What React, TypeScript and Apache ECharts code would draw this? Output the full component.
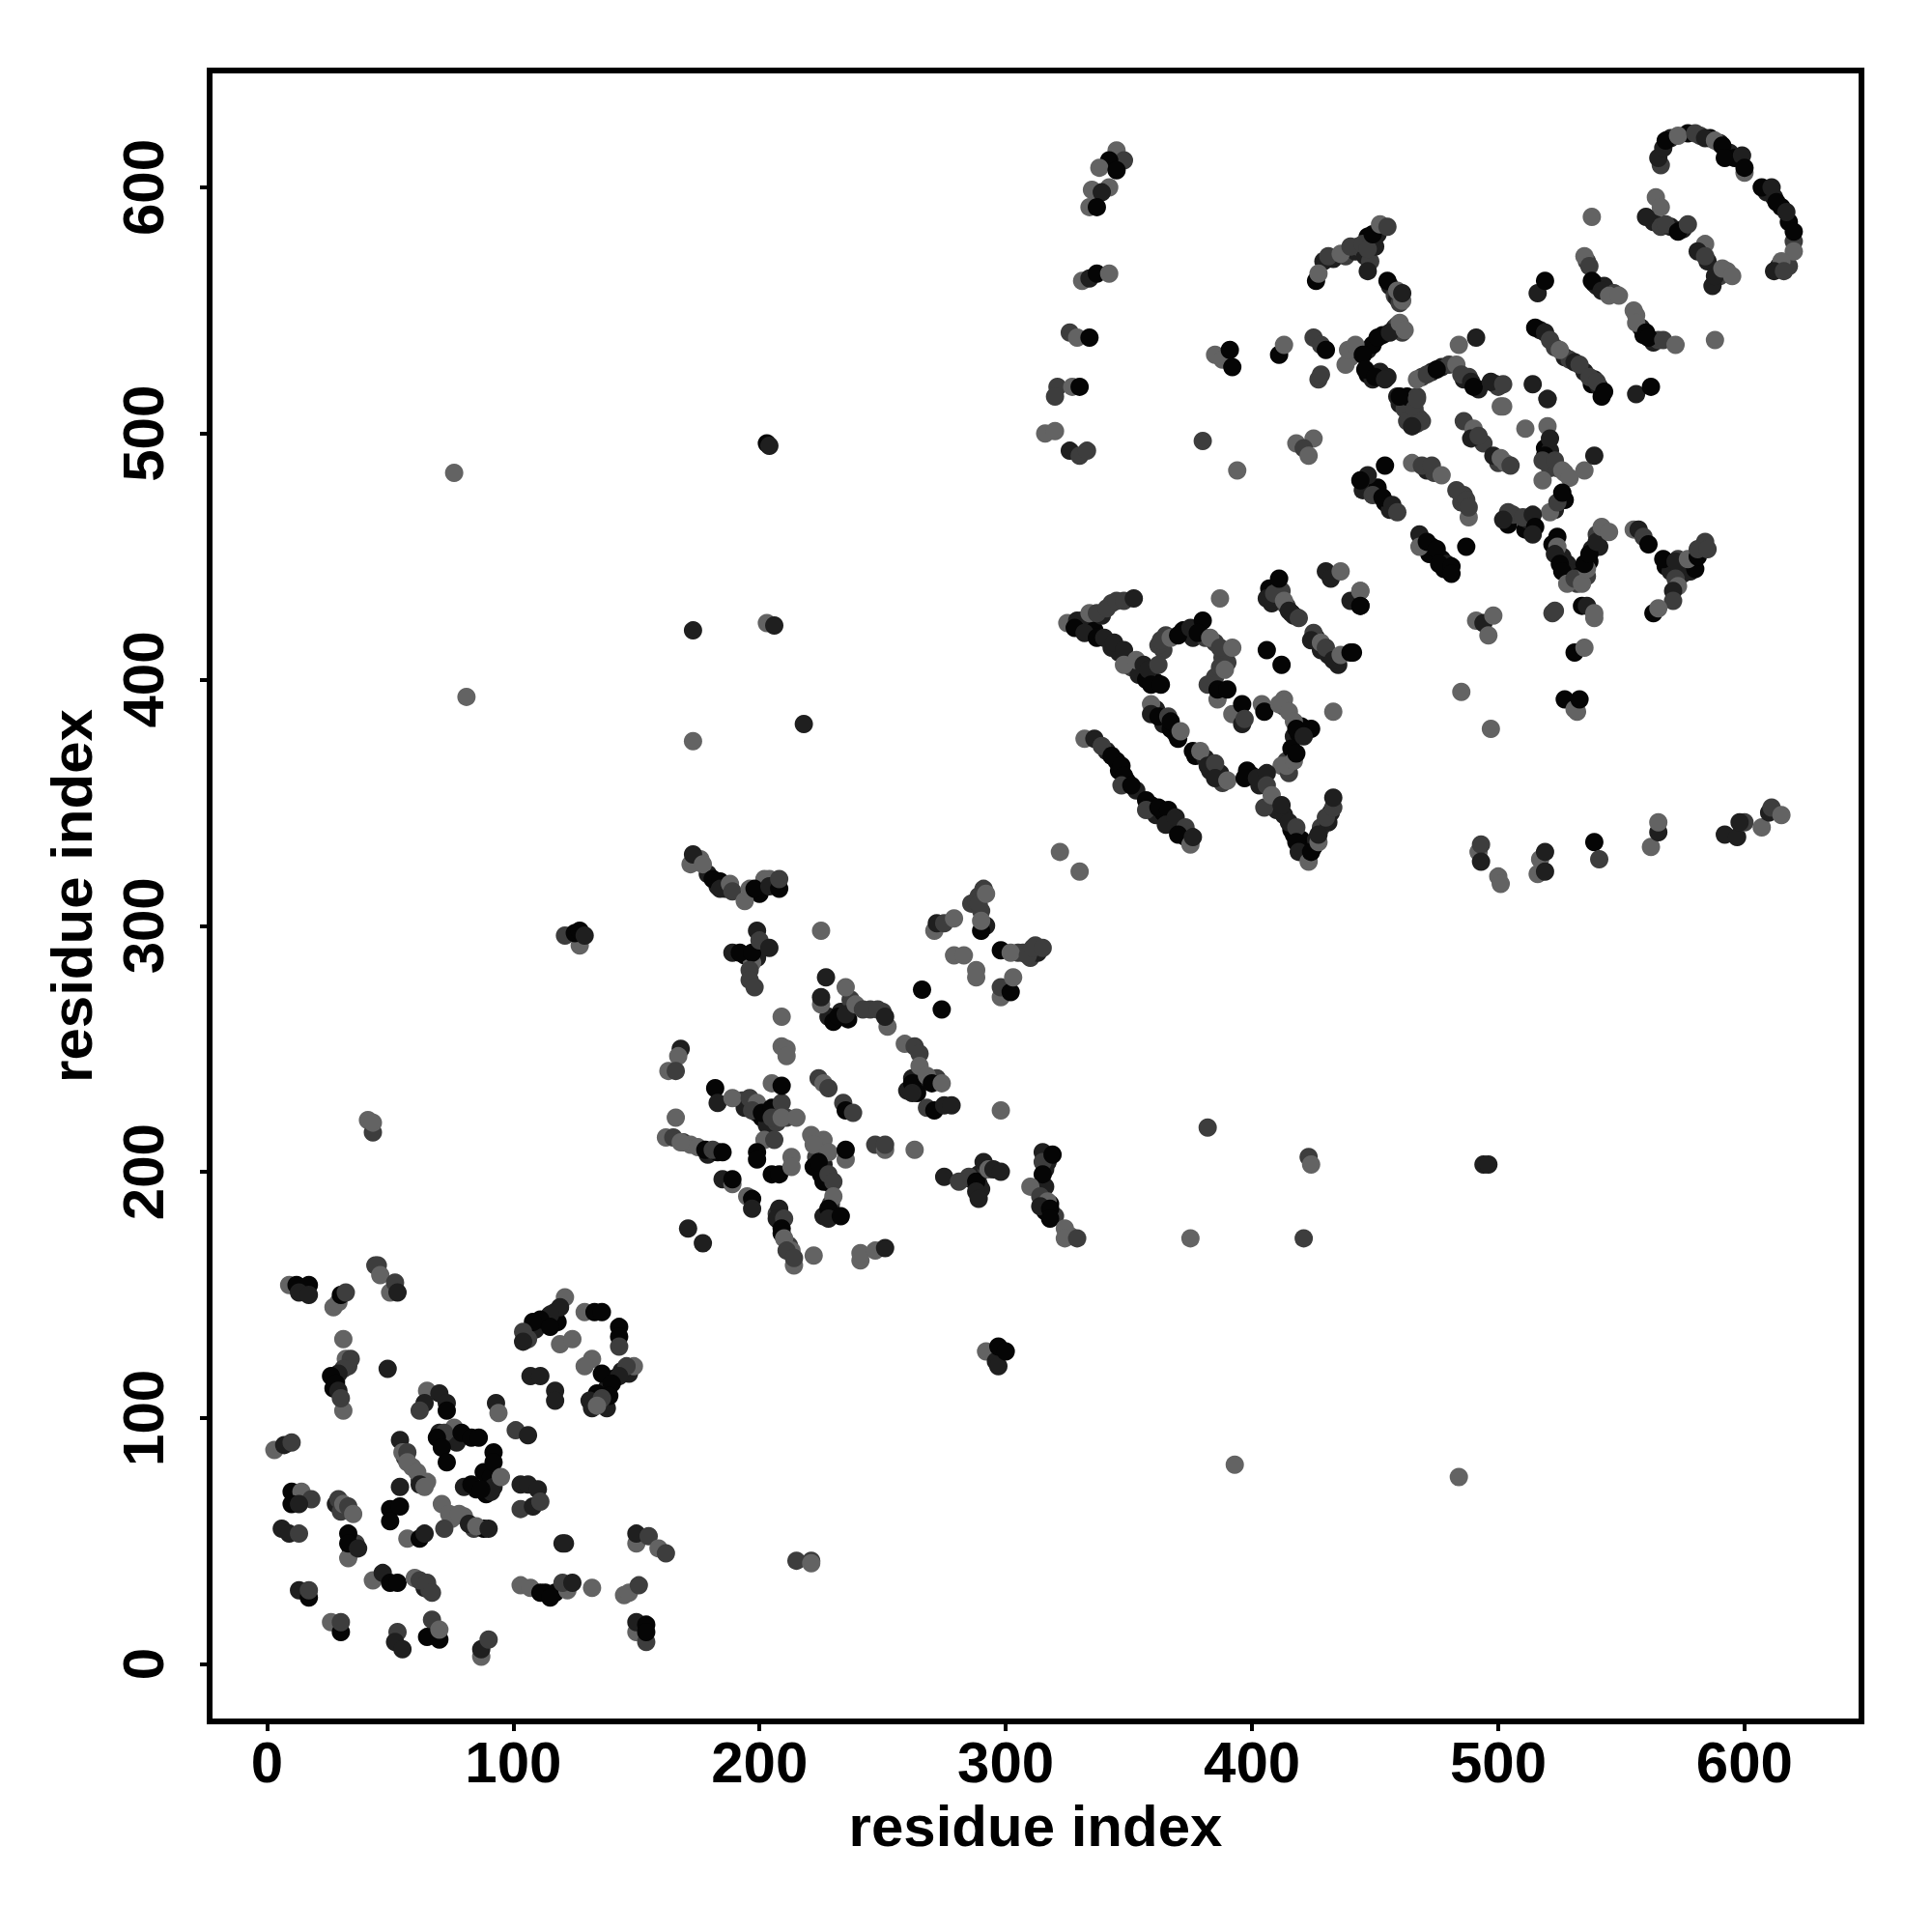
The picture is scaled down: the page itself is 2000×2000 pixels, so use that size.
import React, { useEffect, useRef } from "react";
import * as echarts from "echarts";

const tickValues = [0, 100, 200, 300, 400, 500, 600];
const axisTitle = "residue index";
const greys = ["#050505", "#1f1f1f", "#3d3d3d", "#636363"];

// [residue i, residue j, grey level]
const strandsUpper = [
[566,609,2],[570,620,1],[577,622,0],[582,621,2],[586,620,0],[590,618,1],[594,614,1],[596,612,0],[609,598,1],[612,596,1],[615,592,0],[618,586,0],[620,578,2],[618,568,2],[614,568,1],
[563,586,1],[566,584,2],[570,584,1],[575,583,1],[583,575,1],[585,570,1],[590,564,2],[593,566,3],
[536,570,2],[539,561,0],[540,560,1],[543,560,1],[547,557,2],[556,548,3],[558,543,1],[559,540,0],[563,537,1],[565,538,2],
[429,570,1],[433,571,1],[438,572,2],[442,574,1],[443,576,2],[446,572,1],[448,570,2],[449,578,1],[450,576,1],[451,581,1],[447,580,0],
[456,560,1],[458,556,2],[459,555,1],[460,553,2],[440,531,3],[443,534,2],[447,534,1],[449,536,0],[453,540,0],[458,543,1],[459,544,2],[461,541,2],
[447,524,0],[449,522,1],[452,525,1],[455,523,1],[462,513,1],[465,514,0],[466,508,2],[468,506,1],
[469,523,2],[473,525,1],[477,527,1],[480,528,2],[486,522,1],[488,523,2],[492,518,1],[499,520,1],[500,519,2],
[517,542,1],[523,535,2],[527,531,1],[529,530,2],[531,529,1],[535,525,1],[538,520,0],[539,522,1],[541,519,1],[542,515,0],
];

const strandsMiddle = [
[341,371,1],[345,367,0],[346,363,0],[349,359,0],[353,355,1],[359,349,0],[361,345,1],[364,346,0],[367,342,1],[371,339,1],[373,336,0],[374,337,1],
[361,388,1],[364,382,1],[369,378,1],[367,380,0],[377,369,0],[381,368,1],[383,363,1],[387,362,1],[388,358,2],
[330,422,0],[331,424,1],[333,422,1],[335,424,1],[336,420,0],[339,426,1],[343,431,2],[343,413,1],[346,411,1],[351,405,2],[354,402,1],[357,400,0],[361,399,0],[364,412,2],[365,418,2],[372,420,0],[376,417,1],[381,417,2],[385,415,2],[388,409,2],[390,407,2],[385,401,2],
[400,361,0],[403,357,1],[408,349,1],[410,347,1],[413,345,1],[416,339,0],[417,337,0],[420,335,0],[422,331,0],[425,332,0],[426,335,1],[428,340,2],[431,342,1],[432,346,1],
[417,377,1],[419,378,0],[420,381,0],[414,367,2],[416,372,0],[413,389,2],[412,365,3],
[407,437,0],[408,431,1],[410,433,1],[412,436,2],[414,430,2],[416,427,0],[417,426,1],[426,417,1],[428,412,1],[431,410,1],[434,409,2],[435,406,1],
[524,458,0],[526,450,1],[528,447,1],[530,443,1],[532,439,2],[533,442,0],[536,442,2],[537,448,0],[538,453,1],[540,459,2],[541,454,1],
[445,477,1],[447,479,1],[451,478,0],[454,472,0],[456,469,1],[469,456,1],[472,451,0],[473,454,0],[477,449,0],[479,447,1],[478,445,0],
[568,446,0],[570,444,1],[574,446,2],[575,443,1],[578,444,1],[580,445,0],[573,449,2],
[504,463,0],[506,467,2],[512,463,1],[511,461,0],[512,465,1],[519,494,0],[521,493,1],[521,486,2],[524,486,2],[527,484,3],[527,473,0],[523,469,1],[518,481,3],
[447,483,1],[471,485,1],[474,484,2],[485,472,2],[486,475,2],[460,512,1],[462,510,2],[463,505,2],[467,507,2],[490,500,2],[494,496,2],[500,488,2],[503,488,3],
];

const strandsLower = [
[286,309,2],[290,306,2],[289,312,2],[292,300,1],[305,289,2],[307,289,2],[310,287,2],[313,289,1],[312,292,2],
[176,327,3],[179,321,1],[183,316,1],[186,315,1],[200,313,0],[206,317,1],[202,319,3],[194,288,0],[199,287,1],[201,291,1],[197,285,3],
[228,263,1],[230,261,0],[233,265,1],[236,262,0],[237,270,2],[245,266,2],[250,265,2],[262,238,1],[264,234,0],[266,237,1],[264,232,0],[260,233,1],[272,238,2],
[193,229,2],[194,226,1],[199,224,1],[201,222,0],[203,219,1],[206,224,1],[207,220,2],[211,222,2],
[224,202,1],[223,206,2],[226,203,1],[228,198,2],[229,195,1],[225,199,0],[226,213,3],[229,187,2],[230,183,1],[226,182,1],[207,183,2],[208,180,1],[209,175,0],[212,170,2],[213,168,3],
[286,197,1],[289,195,1],[290,193,1],[289,199,1],[292,202,2],[285,198,2],[316,194,1],[316,201,1],[317,204,1],[320,182,2],[326,174,3],[316,184,0],[318,187,0],
[169,212,2],[172,211,3],[179,207,1],[183,208,0],
[113,140,1],[117,143,1],[118,139,0],[109,136,1],[106,132,2],[138,112,1],[141,116,0],[144,119,1],[147,118,1],[134,110,0],[131,107,1],[138,104,1],
[70,94,1],[71,91,0],[75,92,0],[77,90,1],[88,78,0],[91,76,0],[92,72,1],[89,69,0],[85,71,0],[80,72,1],
[56,84,2],[59,80,3],[62,75,2],[65,74,3],[75,59,3],[80,60,3],[84,55,2],[88,55,0],[120,31,1],[113,29,0],[117,29,0],[122,30,3],[64,31,1],[66,30,2],
[28,115,1],[27,112,0],[33,121,2],[28,65,1],[30,62,2],[36,49,2],[34,47,0],
];

const domainOne = [
[9,154,3],[12,154,0],[17,154,0],[13,151,1],[17,150,1],[27,145,3],[29,147,3],[30,150,0],[32,151,2],[31,132,3],
[31,103,3],[32,124,3],[34,124,2],[31,120,2],[29,118,1],[26,117,0],[28,114,0],[29,111,1],[30,108,2],
[44,162,2],[45,162,2],[46,158,3],[50,151,3],[52,155,2],[53,151,1],[49,120,1],
[121,149,3],[119,145,1],[115,142,1],[111,140,0],[108,139,0],[104,135,2],[104,131,1],[115,137,0],[119,130,3],[124,132,3],
[129,143,3],[133,143,0],[136,143,0],[143,137,0],[143,133,0],[143,129,2],[132,124,3],[129,121,3],[136,118,0],[149,121,3],[146,121,2],[143,117,1],[140,114,0],[139,109,0],[136,108,2],[132,104,1],[134,105,3],
[107,117,1],[111,117,1],[117,111,1],[117,107,1],
[65,111,3],[64,106,1],[62,103,2],[70,110,1],[73,106,1],[73,103,0],[76,96,3],[72,94,2],[69,92,0],[71,88,0],[73,82,0],[79,94,0],[83,92,0],[86,92,0],
[93,106,1],[94,102,3],[101,95,2],[106,93,1],[92,86,0],[92,82,0],[91,70,1],[83,73,0],[87,71,0],[95,76,3],[103,73,1],[106,73,1],[110,71,1],[103,63,2],[108,64,1],[111,66,2],
[54,91,1],[55,86,3],[57,86,2],[57,82,3],[61,78,3],[62,73,1],[64,72,3],[54,72,1],[50,63,0],[54,64,0],[50,58,0],
[71,65,3],[74,61,3],[78,61,3],[82,57,1],[85,56,3],[90,55,1],[72,55,2],[57,51,3],[62,51,0],[64,53,1],
[3,87,3],[7,89,1],[10,90,2],[10,70,0],[14,70,3],[18,67,2],[10,65,0],[13,65,1],[6,55,1],[9,53,1],[13,53,2],
[29,67,2],[31,65,3],[33,64,2],[35,61,3],[33,43,3],[33,53,0],[33,49,0],[37,47,1],
[43,34,3],[47,37,1],[50,33,0],[53,33,0],[60,35,3],[62,34,2],[65,33,2],[67,29,2],[13,30,1],[17,27,0],[17,30,2],
[26,17,3],[30,13,0],[30,17,2],[53,13,2],[52,9,1],[55,6,1],[67,18,2],[65,11,0],[70,10,0],[70,14,3],[87,3,3],[87,6,1],[90,10,2],
[120,49,1],[103,32,3],[107,31,3],[111,29,0],[115,27,0],[120,33,2],[124,33,1],[132,31,3],[145,28,3],[147,29,3],[151,32,2],
[150,49,3],[150,53,1],[155,52,2],[159,47,3],[162,45,2],[150,13,3],[154,9,2],[150,17,1],[154,16,0],[154,13,0],[121,49,1],
];

const domainTwo = [
[172,325,3],[173,329,1],[177,325,3],[181,319,0],[184,318,0],[184,315,1],[188,317,3],[189,314,2],[194,310,3],[196,315,3],[198,315,0],[204,319,3],[204,316,1],[208,315,0],[208,319,2],
[199,298,1],[189,289,1],[192,289,0],[197,289,0],[200,294,2],[204,291,1],[196,282,2],[196,278,2],[198,275,2],[225,298,3],[209,263,3],[209,251,3],[211,250,3],[211,247,3],
[168,250,1],[167,247,3],[163,241,3],[166,241,2],[322,330,3],[330,322,3],
[288,310,2],[289,309,2],[291,315,2],[292,313,3],[290,298,0],[290,302,3],[271,298,3],[272,301,1],[275,301,2],[279,303,3],[279,288,3],[283,288,3],[288,282,3],[288,279,3],
[298,290,0],[302,289,3],[309,288,2],[311,291,2],[315,291,2],[298,271,3],[298,275,2],[302,273,0],[303,279,3],[266,274,0],[274,266,0],
[227,279,1],[225,268,3],[225,271,1],[235,275,3],[232,263,0],[235,264,1],[239,268,3],[242,266,2],[248,266,2],[252,259,3],[251,263,1],
[259,252,3],[263,251,2],[265,248,2],[265,243,3],[262,236,0],[262,232,1],[268,239,3],[270,236,0],[274,236,3],[268,226,2],[271,225,0],[275,227,1],[278,227,1],[298,225,3],[166,222,3],
[162,214,3],[165,214,2],[168,212,3],[175,210,3],[178,209,0],[181,209,2],[185,208,0],[182,234,0],[183,228,1],[189,230,3],[196,230,2],[199,228,3],[197,225,2],[201,224,0],[205,226,0],[209,228,2],[205,222,2],[209,222,3],[215,222,3],[205,236,3],[209,235,0],
[224,238,2],[226,236,3],[228,234,2],[234,228,2],[235,225,0],[238,224,2],[202,213,3],[206,213,2],[199,208,0],[199,205,0],[205,199,0],[208,199,0],[213,206,3],[213,202,3],[221,215,3],[222,211,3],[228,208,3],[235,205,3],[235,209,0],[222,202,0],[224,204,0],[226,196,0],[228,199,2],[230,196,2],
[247,211,2],[251,209,3],[251,211,2],[263,209,3],[185,197,1],[189,195,3],[189,197,0],[195,190,3],[197,189,0],[197,185,1],
[208,185,1],[207,181,1],[210,181,2],[209,177,0],[210,173,3],[211,168,2],[214,162,3],[214,165,2],[222,166,3],[230,190,3],[228,185,0],[228,181,1],[233,182,0],[241,164,3],[241,167,3],[247,168,3],[251,169,1],[171,177,1],[177,171,1],
[275,198,1],[281,196,2],[291,204,1],[288,196,0],[288,192,1],[289,189,1],[293,201,3],[295,201,1],[298,200,1],
[315,208,1],[315,204,2],[319,207,0],[315,199,0],[310,194,3],[314,190,2],[317,188,3],[314,186,1],[318,185,0],[318,181,0],[324,177,3],[324,173,3],[329,173,2],
];

const domainThree = [
[325,423,3],[329,424,1],[328,421,0],[334,427,3],[332,419,1],[337,427,2],[337,417,0],[341,429,2],[340,417,1],[345,432,2],[344,415,1],[348,432,2],[352,433,1],[348,412,1],[348,406,3],[353,408,3],[356,406,1],[358,404,1],[362,406,2],[359,398,0],[363,398,0],
[362,414,2],[363,416,2],[367,417,3],[370,418,0],[375,421,1],[380,424,0],[378,419,0],[383,417,3],[387,413,2],[392,413,3],[387,405,2],[389,404,3],[387,433,3],
[382,398,2],[386,392,3],[386,396,0],[390,396,0],[359,390,3],[359,386,1],[362,385,0],[366,385,2],[367,383,0],[370,376,0],[371,379,3],[376,371,0],[379,371,3],[382,365,1],[385,366,2],[385,360,1],[390,359,3],
[332,376,3],[336,376,1],[339,373,2],[343,369,0],[347,365,0],[348,361,0],[347,357,2],[351,357,0],[357,351,0],[357,347,2],[362,348,0],[366,347,0],[365,341,1],[369,344,1],[373,340,2],[370,337,0],[375,333,3],[376,336,1],
[392,386,3],[396,390,0],[396,382,1],[397,384,2],[404,390,3],[405,387,0],[413,392,3],[411,390,3],[415,387,3],[417,383,3],[418,380,0],[424,380,0],[421,377,1],[415,362,2],[414,365,3],[417,367,3],[418,370,0],
[398,363,0],[397,360,0],[402,360,1],[406,362,1],[406,357,2],[405,348,2],[408,353,3],[412,349,1],[415,342,1],[418,340,2],[418,334,0],[419,330,1],[423,326,3],[424,330,0],[427,334,3],[427,337,1],[430,344,2],[433,348,2],[433,352,1],
[406,433,1],[409,435,2],[411,441,0],[413,432,3],[415,428,1],[419,425,2],[425,419,2],[424,416,1],[428,415,3],[430,413,2],[433,408,1],[436,410,3],[440,411,0],[406,412,0],[412,406,0],
[430,444,1],[432,441,1],[436,444,3],[440,432,1],[444,430,0],[444,436,3],[433,387,3],
];

const domainFour = [
[459,515,1],[463,515,0],[467,515,2],[466,510,2],[465,503,2],[469,505,2],[486,505,2],[490,502,3],[489,498,1],[492,499,2],[498,491,1],[501,490,3],[505,487,2],[502,511,3],[520,514,2],[511,502,3],[520,503,3],[521,498,1],
[519,491,0],[518,489,2],[523,489,2],[526,485,3],[529,482,3],[535,485,3],[539,491,1],[521,468,3],[524,472,2],[526,476,0],[454,487,0],[465,488,3],[469,487,2],[473,487,2],[477,483,3],
[444,481,0],[449,475,2],[453,474,0],[457,471,1],[459,468,2],[488,466,3],[483,477,2],[487,473,2],[488,470,2],[504,468,2],[502,465,1],[510,466,2],[514,467,1],[515,462,0],[514,459,1],
[468,459,1],[468,454,3],[471,456,0],[475,453,0],[476,447,0],[481,446,0],[481,443,0],[487,454,0],
[522,455,0],[524,454,3],[523,451,1],[525,447,0],[526,444,0],[528,439,3],[531,441,2],[534,439,3],[536,445,3],[535,447,0],[537,451,0],[540,456,1],[542,462,3],[545,460,3],
[555,461,3],[557,461,1],[559,458,2],[561,455,0],[567,449,0],[572,448,1],[577,449,3],[581,450,0],[584,456,2],[581,453,2],[585,453,2],[572,441,2],[573,438,3],[571,436,1],[571,432,2],[563,427,0],[565,429,3],
[522,427,2],[523,428,2],[534,430,0],[536,430,1],[539,425,3],[539,427,3],[491,424,3],[494,423,1],[496,418,3],[498,426,3],[531,411,0],[535,413,3],[444,436,3],[444,430,0],[441,411,0],[485,395,3],
[527,392,0],[531,388,3],[532,387,3],[533,392,0],[497,380,3],
[492,330,3],[493,333,2],[493,326,1],[500,320,3],[501,317,3],[516,321,3],[517,327,3],[519,330,1],[519,322,1],[539,334,0],[541,327,2],[562,332,3],[565,338,1],[565,342,3],[592,337,1],[597,336,1],[600,342,2],[598,342,1],[607,340,3],[610,346,1],[611,348,2],[615,345,3],
];

const domainFive = [
[345,615,3],[348,611,2],[342,611,0],[338,608,3],[345,607,0],[342,600,3],[335,599,3],[339,598,1],[334,592,3],[337,592,0],
[331,562,3],[334,563,1],[337,565,0],[342,565,3],[326,541,2],[329,539,3],[334,539,0],[321,519,2],[320,515,2],[327,519,3],[330,519,0],[316,500,3],[320,501,3],[326,493,1],[330,491,2],[333,493,2],
[380,497,2],[394,485,3],[385,532,3],[388,530,3],[391,534,0],[392,527,0],[411,532,0],[413,536,3],[425,539,2],[428,536,2],[430,534,0],[427,522,2],[428,524,2],[418,496,3],[425,498,3],[421,494,2],[423,491,3],
[426,562,0],[427,565,3],[431,572,2],[436,573,3],[440,576,2],[445,577,2],[447,575,2],[447,566,1],[449,581,0],[452,585,3],[455,584,2],[455,562,0],[459,558,3],[461,554,3],[461,557,1],
[438,528,3],[439,534,3],[442,536,3],[445,532,0],[451,539,0],[456,541,1],[460,545,3],[462,542,3],[446,526,0],[450,523,0],[454,522,1],[460,515,0],[467,514,2],[467,504,2],[465,503,1],
[467,522,3],[471,524,2],[475,526,0],[483,528,3],[485,524,2],[489,521,1],[490,519,0],[497,521,1],[502,520,2],[501,511,3],[491,539,1],[484,536,3],[514,520,1],[520,514,1],
[515,543,0],[519,541,1],[521,538,2],[525,534,3],[533,528,2],[537,523,2],[540,521,2],[543,517,0],[556,516,1],[562,519,0],[516,557,1],[519,562,0],
[535,572,3],[537,568,2],[538,562,0],[542,558,1],[545,556,3],[549,556,3],[555,550,3],[556,545,3],[560,541,0],[561,539,0],[567,538,2],[572,536,3],[588,538,3],[538,588,3],
[564,596,3],[566,592,3],[560,588,1],[568,585,2],[573,582,0],[577,585,2],[584,577,3],[581,574,1],[584,572,2],[587,560,1],[588,564,1],[591,567,3],[595,564,3],
[565,612,1],[567,616,1],[568,619,0],[573,621,3],[580,622,2],[584,620,1],[588,619,3],[591,617,0],[592,612,0],[599,613,1],[600,606,3],[600,608,0],[607,600,0],[611,600,1],[613,594,0],[617,590,1],[620,582,0],[620,574,3],[615,570,3],[612,566,1],[616,566,2],
];

const farContacts = [
[76,484,3],[81,393,3],[203,496,0],[204,495,1],[173,420,1],[203,423,3],[206,422,1],[218,382,1],[173,375,3],
[121,296,2],[127,292,3],[125,297,0],[127,298,0],[129,296,1],[41,221,3],[43,216,2],[43,220,3],
[292,127,3],[296,123,1],[297,121,1],[297,129,0],[300,127,0],[382,218,2],[423,206,2],[424,203,3],[494,203,1],[496,203,1],
[375,173,3],[421,173,2],[393,81,3],[484,76,3],[215,42,2],[221,42,2],[221,41,3],
];

const points = [...strandsUpper, ...strandsMiddle, ...strandsLower, ...domainOne, ...domainTwo, ...domainThree, ...domainFour, ...domainFive, ...farContacts];

const font = "'Liberation Sans', Arial, sans-serif";

export default function App() {
  const ref = useRef<HTMLDivElement>(null);
  useEffect(() => {
    const chart = echarts.init(ref.current!, undefined, { renderer: "svg" });
    const axisBase = {
      type: "value" as const,
      min: -23.3,
      max: 647.5,
      nameLocation: "middle" as const,
      name: axisTitle,
      nameTextStyle: { fontFamily: font, fontWeight: "bold" as const, fontSize: 60, color: "#000" },
      splitLine: { show: false },
      axisLine: { show: false, onZero: false },
    };
    chart.setOption({
      animation: false,
      backgroundColor: "#fff",
      grid: { left: 217, right: 73, top: 73, bottom: 218, show: true, borderColor: "#000", borderWidth: 6, backgroundColor: "#fff" },
      xAxis: {
        ...axisBase,
        nameGap: 78,
        axisTick: { show: true, length: 10, lineStyle: { width: 4, color: "#000" }, customValues: tickValues },
        axisLabel: { show: true, margin: 12, fontFamily: font, fontWeight: "bold", fontSize: 60, color: "#000", customValues: tickValues, formatter: (v: number) => String(v) },
      },
      yAxis: {
        ...axisBase,
        nameGap: 113,
        nameRotate: 90,
        axisTick: { show: true, length: 10, lineStyle: { width: 4, color: "#000" }, customValues: tickValues },
        axisLabel: { show: true, margin: 69, rotate: 90, fontFamily: font, fontWeight: "bold", fontSize: 60, color: "#000", customValues: tickValues, formatter: (v: number) => String(v), verticalAlign: "middle", align: "center" },
      },
      series: [{
        type: "scatter",
        symbol: "circle",
        symbolSize: 19,
        data: points,
        itemStyle: { color: (p: any) => greys[p.value[2]], opacity: 1 },
      }],
    });
    return () => chart.dispose();
  }, []);
  return <div ref={ref} style={{ position: "absolute", left: 0, top: 0, width: 2000, height: 2000 }} />;
}
